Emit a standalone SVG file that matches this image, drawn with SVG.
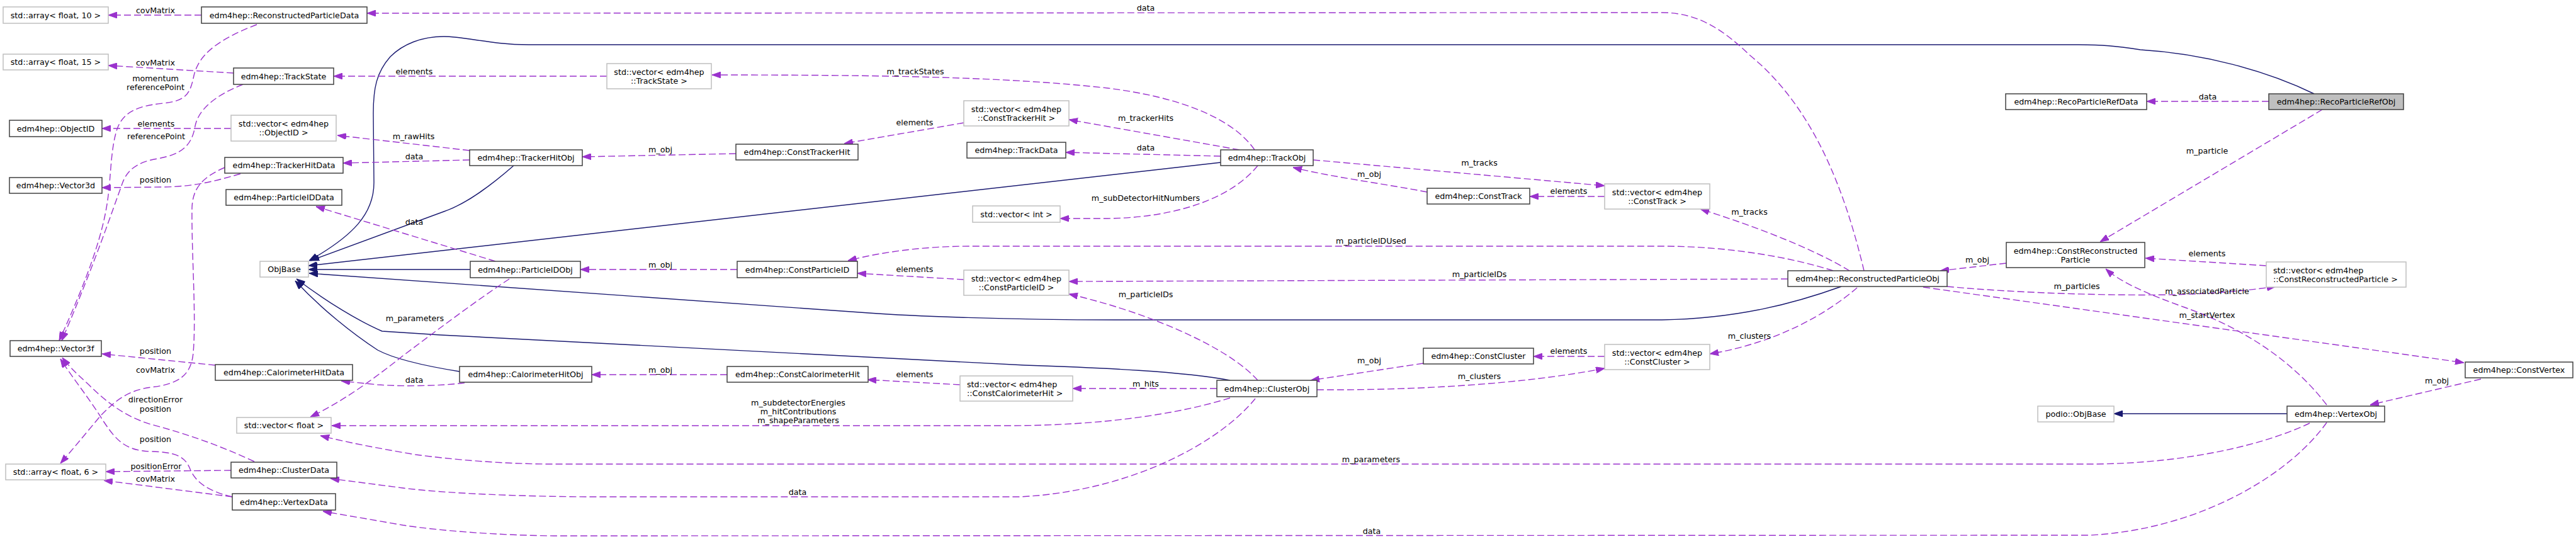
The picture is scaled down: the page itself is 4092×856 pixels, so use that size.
<svg xmlns="http://www.w3.org/2000/svg" width="4092" height="856" viewBox="0 0 4092 856">
<style>
text{font-family:"DejaVu Sans","Liberation Sans",sans-serif;font-size:12.7px;fill:#000}
.c{text-anchor:middle}
.nb{fill:#fff;stroke:#404040;stroke-width:1.5}
.ng{fill:#fff;stroke:#bfbfbf;stroke-width:1.5}
.nf{fill:#bfbfbf;stroke:#404040;stroke-width:1.5}
.d{fill:none;stroke:#9a32cd;stroke-width:1.4;stroke-dasharray:11,5;marker-end:url(#ap)}
.s{fill:none;stroke:#191970;stroke-width:1.4;marker-end:url(#an)}
</style>
<defs>
<marker id="ap" markerUnits="userSpaceOnUse" viewBox="0 0 14 10" markerWidth="14" markerHeight="10" refX="14" refY="5" orient="auto"><path d="M0,0 L14,5 L0,10 z" fill="#9a32cd" stroke="#9a32cd"/></marker>
<marker id="an" markerUnits="userSpaceOnUse" viewBox="0 0 14 10" markerWidth="14" markerHeight="10" refX="14" refY="5" orient="auto"><path d="M0,0 L14,5 L0,10 z" fill="#191970" stroke="#191970"/></marker>
</defs>
<rect width="4092" height="856" fill="#fff"/>
<g id="edges">
<path class="s" d="M3676,149 C3600,112 3500,85 3400,79 C3360,73 3340,71 3300,71 L840,71 C780,71 740,58 705,58 C670,58 640,70 620,90 C598,115 593,140 593,180 L594,290 C594,340 560,375 491,414"/>
<path class="s" d="M816,263 C785,290 745,322 705,336 L493,414"/>
<path class="s" d="M1939,258 L490,422"/>
<path class="s" d="M747,428 L490,428"/>
<path class="s" d="M2925,455 C2850,482 2760,506 2640,508 L1770,508 C1600,508 1450,502 1380,497 L491,434"/>
<path class="s" d="M1954,604 C1880,590 1750,584 1628,580 L700,532 L607,526 C570,510 520,480 471,443"/>
<path class="s" d="M730,590 C680,582 630,572 600,556 C560,530 510,490 469,446"/>
<path class="s" d="M3633,657 L3358,657"/>

<path class="d" d="M320,24 L172,24"/><text class="c" x="247" y="21">covMatrix</text>
<path class="d" d="M371,116 L172,104"/><text class="c" x="247" y="104">covMatrix</text>
<path class="d" d="M408,39 C340,65 315,90 308,120 C302,150 295,160 260,164 C215,168 195,180 186,205 C176,235 176,280 172,310 C165,370 140,440 94,541"/>
<text class="c" x="247" y="129">momentum</text><text class="c" x="247" y="143">referencePoint</text>
<path class="d" d="M386,134 C340,152 315,175 310,200 C305,230 290,245 250,252 C215,258 200,272 193,295 C180,330 150,420 98,541"/>
<text class="c" x="248" y="221">referencePoint</text>
<path class="d" d="M367,204 L162,204"/><text class="c" x="248" y="201">elements</text>
<path class="d" d="M382,276 C340,288 310,296 260,297 L162,298"/><text class="c" x="247" y="290">position</text>
<path class="d" d="M357,266 C320,282 306,300 305,330 C304,400 312,500 307,560 C304,595 285,610 240,615 C200,620 180,640 160,660 C135,690 110,720 96,736"/>
<text class="c" x="247" y="592">covMatrix</text>
<path class="d" d="M342,580 L162,562"/><text class="c" x="247" y="562">position</text>
<path class="d" d="M404,733 C350,708 300,690 240,674 C200,662 170,640 140,610 C120,592 108,580 99,568"/>
<text class="c" x="247" y="639">directionError</text><text class="c" x="247" y="654">position</text>
<path class="d" d="M369,789 C330,780 310,765 302,745 C294,725 280,718 240,717 C200,716 185,700 165,670 C140,630 115,600 96,570"/>
<text class="c" x="247" y="702">position</text>
<path class="d" d="M367,747 L168,749"/><text class="c" x="248" y="745">positionError</text>
<path class="d" d="M369,789 L165,763"/><text class="c" x="247" y="765">covMatrix</text>

<path class="d" d="M746,239 L536,215"/><text class="c" x="657" y="221">m_rawHits</text>
<path class="d" d="M746,254 L545,259"/><text class="c" x="658" y="253">data</text>
<path class="d" d="M787,415 L502,328"/><text class="c" x="658" y="357">data</text>
<path class="d" d="M738,608 C700,613 640,614 600,611 L542,605"/><text class="c" x="658" y="608">data</text>
<path class="d" d="M809,443 C760,475 700,520 640,565 C590,605 540,640 493,662"/><text class="c" x="659" y="510">m_parameters</text>
<path class="d" d="M1954,632 C1870,658 1750,676 1600,676 L527,676"/>
<text class="c" x="1268" y="644">m_subdetectorEnergies</text><text class="c" x="1268" y="658">m_hitContributions</text><text class="c" x="1268" y="672">m_shapeParameters</text>
<path class="d" d="M3669,672 C3600,705 3480,735 3330,737 L880,737 C800,737 720,730 660,722 C600,712 550,702 509,692"/>
<text class="c" x="2178" y="734">m_parameters</text>
<path class="d" d="M1994,633 C1940,700 1800,780 1620,789 L950,789 C830,789 700,783 640,775 L525,760"/>
<text class="c" x="1267" y="786">data</text>
<path class="d" d="M3696,671 C3640,750 3500,840 3320,850 L880,851 C790,850 700,843 640,834 L513,812"/>
<text class="c" x="2179" y="848">data</text>
<path class="d" d="M2961,430 C2930,300 2880,170 2780,88 C2740,50 2700,20 2640,20 L583,21"/>
<text class="c" x="1820" y="17">data</text>
<path class="d" d="M1993,238 C1960,190 1880,155 1760,140 C1600,122 1400,119 1131,119"/>
<text class="c" x="1454" y="118">m_trackStates</text>
<path class="d" d="M964,121 L530,121"/><text class="c" x="658" y="118">elements</text>
<path class="d" d="M1169,244 L925,249"/><text class="c" x="1049" y="242">m_obj</text>
<path class="d" d="M1531,195 L1341,228"/><text class="c" x="1453" y="199">elements</text>
<path class="d" d="M1969,238 L1698,190"/><text class="c" x="1820" y="192">m_trackerHits</text>
<path class="d" d="M1939,248 L1693,242"/><text class="c" x="1820" y="239">data</text>
<path class="d" d="M1998,263 C1960,310 1880,345 1760,347 L1684,347"/><text class="c" x="1820" y="319">m_subDetectorHitNumbers</text>
<path class="d" d="M2086,254 L2549,295"/><text class="c" x="2350" y="263">m_tracks</text>
<path class="d" d="M2267,305 C2200,292 2120,282 2054,266"/><text class="c" x="2175" y="281">m_obj</text>
<path class="d" d="M2549,312 L2430,312"/><text class="c" x="2492" y="308">elements</text>
<path class="d" d="M2938,430 C2880,395 2790,360 2701,332"/><text class="c" x="2779" y="341">m_tracks</text>
<path class="d" d="M2912,430 C2850,410 2750,391 2640,391 L1540,391 C1470,391 1400,400 1347,414"/>
<text class="c" x="2178" y="387">m_particleIDUsed</text>
<path class="d" d="M1171,428 L922,428"/><text class="c" x="1049" y="425">m_obj</text>
<path class="d" d="M1531,444 L1362,434"/><text class="c" x="1453" y="432">elements</text>
<path class="d" d="M2840,443 L1698,447"/><text class="c" x="2350" y="440">m_particleIDs</text>
<path class="d" d="M1998,604 C1950,550 1820,495 1698,467"/><text class="c" x="1820" y="472">m_particleIDs</text>
<path class="d" d="M1155,595 L940,595"/><text class="c" x="1049" y="592">m_obj</text>
<path class="d" d="M1525,611 L1378,603"/><text class="c" x="1453" y="599">elements</text>
<path class="d" d="M1933,617 L1704,617"/><text class="c" x="1820" y="614">m_hits</text>
<path class="d" d="M2261,577 L2082,604"/><text class="c" x="2175" y="577">m_obj</text>
<path class="d" d="M2092,619 C2250,620 2420,610 2549,585"/><text class="c" x="2350" y="602">m_clusters</text>
<path class="d" d="M2549,566 L2436,566"/><text class="c" x="2492" y="562">elements</text>
<path class="d" d="M2950,457 C2900,500 2820,545 2716,562"/><text class="c" x="2779" y="538">m_clusters</text>
<path class="d" d="M3187,418 L3082,430"/><text class="c" x="3141" y="417">m_obj</text>
<path class="d" d="M3604,161 L3410,161"/><text class="c" x="3507" y="158">data</text>
<path class="d" d="M3689,174 L3336,384"/><text class="c" x="3506" y="244">m_particle</text>
<path class="d" d="M3600,422 L3408,410"/><text class="c" x="3506" y="407">elements</text>
<path class="d" d="M3093,455 C3200,465 3350,470 3450,468 C3530,466 3580,460 3615,455"/><text class="c" x="3299" y="459">m_particles</text>
<path class="d" d="M3696,643 C3640,570 3560,520 3470,488 C3420,470 3370,450 3345,427"/><text class="c" x="3506" y="467">m_associatedParticle</text>
<path class="d" d="M3055,456 L3914,576"/><text class="c" x="3506" y="505">m_startVertex</text>
<path class="d" d="M3941,602 L3765,643"/><text class="c" x="3871" y="609">m_obj</text>
</g>

<g id="n_arr10"><rect class="ng" x="5" y="11" width="167" height="26"/><text class="c" x="88.5" y="28.5">std::array&lt; float, 10 &gt;</text></g>
<g id="n_rpd"><rect class="nb" x="320" y="11" width="263" height="26"/><text class="c" x="451.5" y="28.5">edm4hep::ReconstructedParticleData</text></g>
<g id="n_arr15"><rect class="ng" x="5" y="86" width="167" height="25"/><text class="c" x="88.5" y="103">std::array&lt; float, 15 &gt;</text></g>
<g id="n_ts"><rect class="nb" x="371" y="108" width="159" height="26"/><text class="c" x="450.5" y="125.5">edm4hep::TrackState</text></g>
<g id="n_oid"><rect class="nb" x="15" y="191" width="147" height="26"/><text class="c" x="88.5" y="208.5">edm4hep::ObjectID</text></g>
<g id="n_void"><rect class="ng" x="367" y="183" width="167" height="41"/><text class="c" x="450.5" y="201">std::vector&lt; edm4hep</text><text class="c" x="450.5" y="215">::ObjectID &gt;</text></g>
<g id="n_thd"><rect class="nb" x="357" y="250" width="188" height="25"/><text class="c" x="451" y="267">edm4hep::TrackerHitData</text></g>
<g id="n_v3d"><rect class="nb" x="15" y="282" width="147" height="25"/><text class="c" x="88.5" y="299">edm4hep::Vector3d</text></g>
<g id="n_pidd"><rect class="nb" x="359" y="301" width="184" height="25"/><text class="c" x="451" y="318">edm4hep::ParticleIDData</text></g>
<g id="n_objbase"><rect class="ng" x="413" y="415" width="77" height="25"/><text class="c" x="451.5" y="432">ObjBase</text></g>
<g id="n_v3f"><rect class="nb" x="16" y="541" width="145" height="25"/><text class="c" x="88.5" y="558">edm4hep::Vector3f</text></g>
<g id="n_chd"><rect class="nb" x="342" y="579" width="218" height="25"/><text class="c" x="451" y="596">edm4hep::CalorimeterHitData</text></g>
<g id="n_vf"><rect class="ng" x="376" y="663" width="150" height="25"/><text class="c" x="451" y="680">std::vector&lt; float &gt;</text></g>
<g id="n_arr6"><rect class="ng" x="9" y="737" width="159" height="25"/><text class="c" x="88.5" y="754">std::array&lt; float, 6 &gt;</text></g>
<g id="n_cd"><rect class="nb" x="367" y="734" width="168" height="25"/><text class="c" x="451" y="751">edm4hep::ClusterData</text></g>
<g id="n_vd"><rect class="nb" x="369" y="784" width="164" height="26"/><text class="c" x="451" y="801.5">edm4hep::VertexData</text></g>
<g id="n_vts"><rect class="ng" x="964" y="101" width="166" height="40"/><text class="c" x="1047" y="118.5">std::vector&lt; edm4hep</text><text class="c" x="1047" y="132.5">::TrackState &gt;</text></g>
<g id="n_tho"><rect class="nb" x="746" y="238" width="179" height="25"/><text class="c" x="835.5" y="255">edm4hep::TrackerHitObj</text></g>
<g id="n_cth"><rect class="nb" x="1169" y="229" width="194" height="25"/><text class="c" x="1266" y="246">edm4hep::ConstTrackerHit</text></g>
<g id="n_pido"><rect class="nb" x="747" y="415" width="175" height="26"/><text class="c" x="834.5" y="432.5">edm4hep::ParticleIDObj</text></g>
<g id="n_cpid"><rect class="nb" x="1171" y="415" width="191" height="26"/><text class="c" x="1266.5" y="432.5">edm4hep::ConstParticleID</text></g>
<g id="n_cho"><rect class="nb" x="730" y="582" width="210" height="25"/><text class="c" x="835" y="599">edm4hep::CalorimeterHitObj</text></g>
<g id="n_cch"><rect class="nb" x="1155" y="582" width="224" height="25"/><text class="c" x="1267" y="599">edm4hep::ConstCalorimeterHit</text></g>
<g id="n_vcth"><rect class="ng" x="1531" y="160" width="167" height="40"/><text class="c" x="1614.5" y="177.5">std::vector&lt; edm4hep</text><text class="c" x="1614.5" y="191.5">::ConstTrackerHit &gt;</text></g>
<g id="n_td"><rect class="nb" x="1536" y="226" width="157" height="25"/><text class="c" x="1614.5" y="243">edm4hep::TrackData</text></g>
<g id="n_to"><rect class="nb" x="1939" y="238" width="147" height="25"/><text class="c" x="2012.5" y="255">edm4hep::TrackObj</text></g>
<g id="n_vint"><rect class="ng" x="1545" y="327" width="139" height="26"/><text class="c" x="1614.5" y="344.5">std::vector&lt; int &gt;</text></g>
<g id="n_vcpid"><rect class="ng" x="1531" y="429" width="167" height="40"/><text class="c" x="1614.5" y="446.5">std::vector&lt; edm4hep</text><text class="c" x="1614.5" y="460.5">::ConstParticleID &gt;</text></g>
<g id="n_vcch"><rect class="ng" x="1525" y="597" width="179" height="40"/><text x="1536" y="614.5">std::vector&lt; edm4hep</text><text x="1536" y="628.5">::ConstCalorimeterHit &gt;</text></g>
<g id="n_co"><rect class="nb" x="1933" y="604" width="159" height="26"/><text class="c" x="2012.5" y="621.5">edm4hep::ClusterObj</text></g>
<g id="n_ct"><rect class="nb" x="2267" y="299" width="163" height="25"/><text class="c" x="2348.5" y="316">edm4hep::ConstTrack</text></g>
<g id="n_vct"><rect class="ng" x="2549" y="292" width="167" height="40"/><text class="c" x="2632.5" y="309.5">std::vector&lt; edm4hep</text><text class="c" x="2632.5" y="323.5">::ConstTrack &gt;</text></g>
<g id="n_cc"><rect class="nb" x="2261" y="553" width="175" height="25"/><text class="c" x="2348.5" y="570">edm4hep::ConstCluster</text></g>
<g id="n_vcc"><rect class="ng" x="2549" y="547" width="167" height="40"/><text class="c" x="2632.5" y="564.5">std::vector&lt; edm4hep</text><text class="c" x="2632.5" y="578.5">::ConstCluster &gt;</text></g>
<g id="n_rprd"><rect class="nb" x="3186" y="149" width="224" height="25"/><text class="c" x="3298" y="166">edm4hep::RecoParticleRefData</text></g>
<g id="n_crp"><rect class="nb" x="3187" y="385" width="220" height="40"/><text class="c" x="3297" y="402.5">edm4hep::ConstReconstructed</text><text class="c" x="3297" y="416.5">Particle</text></g>
<g id="n_rpo"><rect class="nb" x="2840" y="430" width="253" height="25"/><text class="c" x="2966.5" y="447">edm4hep::ReconstructedParticleObj</text></g>
<g id="n_pob"><rect class="ng" x="3237" y="645" width="121" height="25"/><text class="c" x="3297.5" y="662">podio::ObjBase</text></g>
<g id="n_rpro"><rect class="nf" x="3604" y="149" width="214" height="25"/><text class="c" x="3711" y="166">edm4hep::RecoParticleRefObj</text></g>
<g id="n_vcrp"><rect class="ng" x="3600" y="416" width="222" height="40"/><text x="3611" y="433.5">std::vector&lt; edm4hep</text><text x="3611" y="447.5">::ConstReconstructedParticle &gt;</text></g>
<g id="n_cv"><rect class="nb" x="3916" y="575" width="171" height="25"/><text class="c" x="4001.5" y="592">edm4hep::ConstVertex</text></g>
<g id="n_vo"><rect class="nb" x="3633" y="645" width="155" height="25"/><text class="c" x="3710.5" y="662">edm4hep::VertexObj</text></g>
</svg>
